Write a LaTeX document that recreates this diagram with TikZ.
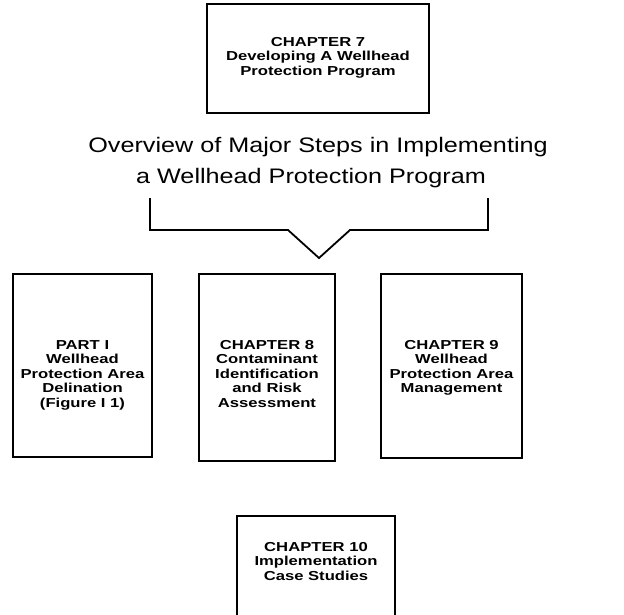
\documentclass[tikz,border=0pt]{standalone}
\usepackage{fontspec}
\setmainfont{Liberation Sans}[FakeStretch=1.2, BoldFeatures={FakeStretch=1.28}]
\begin{document}
\begin{tikzpicture}[x=1pt,y=-1pt,
  box/.style={draw=black, line width=1.8pt, rectangle, inner sep=0pt},
  btxt/.style={align=center, inner sep=0pt, anchor=north,
    font=\bfseries\fontsize{13}{14.5}\selectfont},
  ttl/.style={inner sep=0pt, anchor=base, font=\fontsize{21}{31}\selectfont},
  brk/.style={line width=1.8pt, line join=miter}]
\useasboundingbox (0,0) rectangle (624,614);
\clip (0,0) rectangle (624,614);
\fill[white] (0,0) rectangle (624,614);
% top box
\node[box, minimum width=222pt, minimum height=109pt] (c7) at (318,58.5) {};
\node[btxt] (c7t) at (318,37) {CHAPTER 7\\Developing A Wellhead\\Protection Program};
% title
\node[ttl] (t1) at (318,152) {Overview of Major Steps in Implementing};
\node[ttl] (t2) at (311,183) {a Wellhead Protection Program};
% bracket
\coordinate (bl) at (150,198);
\coordinate (br) at (488,198);
\coordinate (ap) at (319,258);
\draw[brk] (bl) -- (150,230) -- (288,230) -- (ap) -- (350,230) -- (488,230) -- (br);
% row boxes
\node[box, minimum width=139pt, minimum height=183pt] (p1) at (82.5,365.5) {};
\node[btxt] (p1t) at (82.5,340) {PART I\\Wellhead\\Protection Area\\Delination\\(Figure I 1)};
\node[box, minimum width=136pt, minimum height=187pt] (c8) at (267,367.5) {};
\node[btxt] (c8t) at (267,340) {CHAPTER 8\\Contaminant\\Identification\\and Risk\\Assessment};
\node[box, minimum width=141pt, minimum height=184pt] (c9) at (451.5,366) {};
\node[btxt] (c9t) at (451.5,340) {CHAPTER 9\\Wellhead\\Protection Area\\Management};
% bottom box
\node[box, minimum width=158pt, minimum height=120pt] (c10) at (316,576) {};
\node[btxt] (c10t) at (316,542) {CHAPTER 10\\Implementation\\Case Studies};
\end{tikzpicture}
\end{document}
